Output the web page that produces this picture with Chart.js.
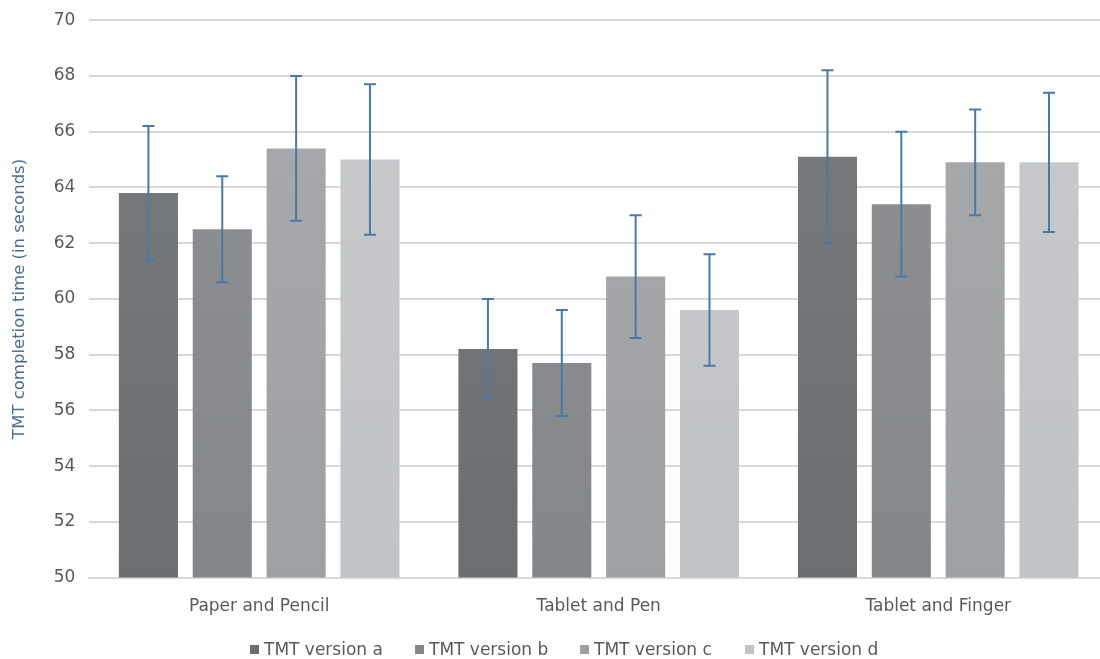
<!DOCTYPE html>
<html>
<head>
<meta charset="utf-8">
<script src="https://cdn.jsdelivr.net/npm/chart.js@4.4.1/dist/chart.umd.min.js"></script>
<style>
  html, body { margin: 0; padding: 0; background: #fff; overflow: hidden; }
  #wrap { position: relative; width: 1108px; height: 659px; overflow: hidden; }
  #chart { position: absolute; left: 0; top: -4px; }
  #legend {
    position: absolute; left: 250px; top: 639px;
    display: flex;
    font-family: "DejaVu Sans", sans-serif; font-size: 17px; color: #595959; line-height: 20px;
  }
  #legend span.item { display: flex; align-items: center; width: 165px; }
  #legend i { display: inline-block; width: 9px; height: 9px; margin-right: 5px; }
</style>
</head>
<body>
<div id="wrap">
  <canvas id="chart" width="1108" height="659"></canvas>
  <div id="legend"></div>
</div>
<script>
const categories = ['Paper and Pencil', 'Tablet and Pen', 'Tablet and Finger'];
const seriesNames = ['TMT version a', 'TMT version b', 'TMT version c', 'TMT version d'];

// mean completion time per version, by category
const versionA = [63.8, 58.2, 65.1];
const versionB = [62.5, 57.7, 63.4];
const versionC = [65.4, 60.8, 64.9];
const versionD = [65.0, 59.6, 64.9];

// error bar low / high
const lowA = [61.4, 56.4, 62.0];
const highA = [66.2, 60.0, 68.2];
const lowB = [60.6, 55.8, 60.8];
const highB = [64.4, 59.6, 66.0];
const lowC = [62.8, 58.6, 63.0];
const highC = [68.0, 63.0, 66.8];
const lowD = [62.3, 57.6, 62.4];
const highD = [67.7, 61.6, 67.4];

const yMin = 50, yMax = 70, yStep = 2;

const shades = [
    ['#7a7d7f', '#6a6e71'],
    ['#8f9193', '#84878a'],
    ['#a8aaac', '#9ea1a3'],
    ['#c8cacc', '#c1c4c6']
];

const gradientFor = (i) => (ctx) => {
    const area = ctx.chart.chartArea;
    if (!area) return shades[i][1];
    const g = ctx.chart.ctx.createLinearGradient(0, area.top, 0, area.bottom);
    g.addColorStop(0, shades[i][0]);
    g.addColorStop(1, shades[i][1]);
    return g;
};

const values = [versionA, versionB, versionC, versionD];
const lows = [lowA, lowB, lowC, lowD];
const highs = [highA, highB, highC, highD];

const datasets = values.map((data, i) => ({
    label: seriesNames[i],
    data,
    backgroundColor: gradientFor(i),
    barPercentage: 0.8,
    categoryPercentage: 0.87,
    errLow: lows[i],
    errHigh: highs[i]
}));

// draws the error bars using the y scale
const errorBars = {
    id: 'errorBars',
    afterDatasetsDraw(chart) {
        const { ctx, scales: { y } } = chart;
        ctx.save();
        ctx.strokeStyle = '#4a79a5';
        ctx.lineWidth = 2;
        chart.data.datasets.forEach((ds, di) => {
            const meta = chart.getDatasetMeta(di);
            meta.data.forEach((bar, j) => {
                const x = bar.x;
                const top = y.getPixelForValue(ds.errHigh[j]);
                const bot = y.getPixelForValue(ds.errLow[j]);
                ctx.beginPath();
                ctx.moveTo(x, top); ctx.lineTo(x, bot);
                ctx.moveTo(x - 6, top); ctx.lineTo(x + 6, top);
                ctx.moveTo(x - 6, bot); ctx.lineTo(x + 6, bot);
                ctx.stroke();
            });
        });
        ctx.restore();
    }
};

const font = { family: 'DejaVu Sans', size: 17 };

new Chart(document.getElementById('chart'), {
    type: 'bar',
    data: { labels: categories, datasets },
    plugins: [errorBars],
    options: {
        responsive: false,
        animation: false,
        layout: { padding: { top: 3, left: 6, right: 0, bottom: 27 } },
        plugins: {
            legend: { display: false },
            tooltip: { enabled: false }
        },
        scales: {
            x: {
                grid: { display: false },
                border: { display: true, color: '#d9d9d9', width: 2 },
                ticks: { color: '#595959', font, padding: 11 }
            },
            y: {
                min: yMin, max: yMax,
                ticks: { stepSize: yStep, color: '#595959', font, padding: 14 },
                grid: { color: '#d9d9d9', lineWidth: 2, drawTicks: false },
                border: { display: false },
                title: {
                    display: true, text: 'TMT completion time (in seconds)',
                    color: '#4a6d8f', font: { family: 'DejaVu Sans', size: 16.5 }, padding: { top: 4, bottom: 10 }
                }
            }
        }
    }
});

const legend = document.getElementById('legend');
seriesNames.forEach((name, i) => {
    const s = document.createElement('span');
    s.className = 'item';
    s.innerHTML = `<i style="background:${shades[i][1]}"></i>${name}`;
    legend.appendChild(s);
});
</script>
</body>
</html>
